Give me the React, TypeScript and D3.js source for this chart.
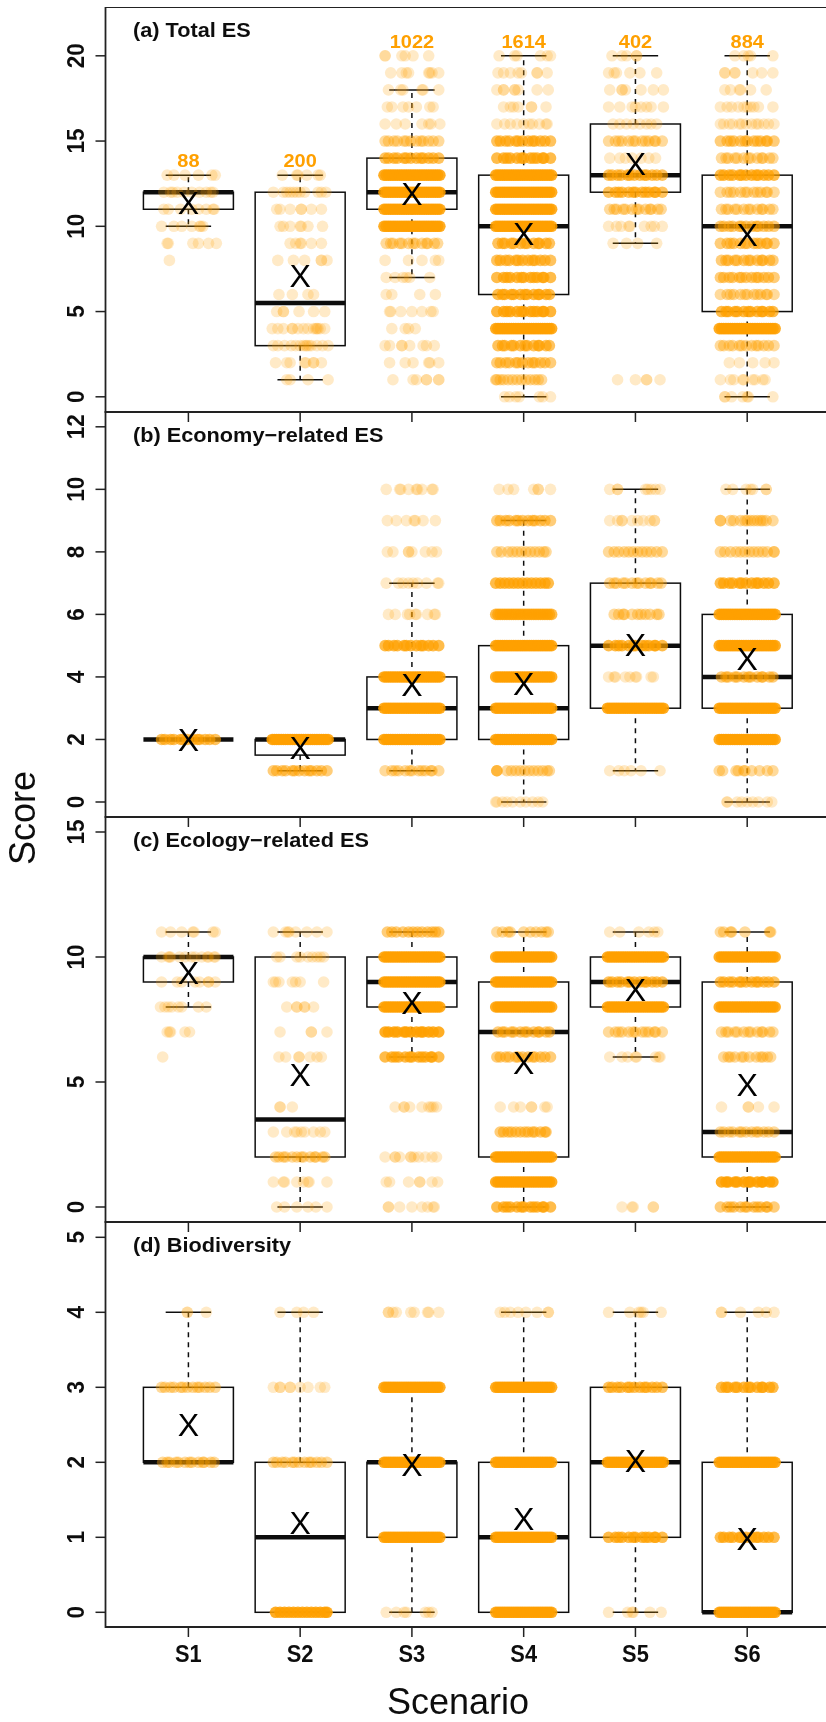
import React from "react";
import * as d3 from "d3";

type Row = [number, number, number[]];
type Box = [number, number, number, number, number, number];

const scenarios = ["S1", "S2", "S3", "S4", "S5", "S6"];
const counts = ["88", "200", "1022", "1614", "402", "884"];
const panelTitles = ["(a) Total ES", "(b) Economy\u2212related ES", "(c) Ecology\u2212related ES", "(d) Biodiversity"];

const yDomains = [20, 12, 15, 5];
const yTicks = [
  [0, 5, 10, 15, 20],
  [0, 2, 4, 6, 8, 10, 12],
  [0, 5, 10, 15],
  [0, 1, 2, 3, 4, 5],
];

// whisker low, q1, median, q3, whisker high, mean
const totalBoxes: Box[] = [
  [10, 11, 12, 12, 13, 11.4],
  [1, 3, 5.5, 12, 13, 7.1],
  [7, 11, 12, 14, 18, 11.9],
  [0, 6, 10, 13, 20, 9.6],
  [9, 12, 13, 16, 20, 13.7],
  [0, 5, 10, 13, 20, 9.5],
];
const economyBoxes: Box[] = [
  [2, 2, 2, 2, 2, 2],
  [1, 1.5, 2, 2, 2, 1.75],
  [1, 2, 3, 4, 7, 3.75],
  [0, 2, 3, 5, 9, 3.8],
  [1, 3, 5, 7, 10, 5.05],
  [0, 3, 4, 6, 10, 4.6],
];
const ecologyBoxes: Box[] = [
  [8, 9, 10, 10, 11, 9.4],
  [0, 2, 3.5, 10, 11, 5.3],
  [6, 8, 9, 10, 11, 8.2],
  [0, 2, 7, 9, 11, 5.8],
  [6, 8, 9, 10, 11, 8.7],
  [0, 2, 3, 9, 11, 4.9],
];
const biodiversityBoxes: Box[] = [
  [2, 2, 2, 3, 4, 2.5],
  [0, 0, 1, 2, 4, 1.2],
  [0, 1, 2, 2, 3, 1.97],
  [0, 0, 1, 2, 4, 1.25],
  [0, 1, 2, 3, 4, 2.02],
  [0, 0, 0, 2, 4, 0.98],
];

// hand-read dot offsets along a row, in hundredths of a scenario spacing
const FULL = [-25, -23, -21, -19, -17, -15, -13, -11, -9, -7, -5, -3, -1, 1, 3, 5, 7, 9, 11, 13, 15, 17, 19, 21, 23, 25];
const P = [-24, -21, -16, -13, -7, -5, -1, 4, 8, 10, 15, 19, 24];
const Q = [-23, -19, -17, -11, -9, -3, 1, 3, 9, 13, 14, 20, 23];
const R = [-24, -18, -15, -12, -6, -2, 0, 6, 9, 12, 17, 18, 24];

const totalRows: Row[][] = [
  [
    [13, 1, [-19, -13, -3, 9, 21, 24]],
    [12, 1, [-22, -16, -14, -10, -4, 3, 10, 16, 20, 22]],
    [11, 1, [-22, -18, -7, 3, 9, 16, 22, 23]],
    [10, 1, [-24, -13, -6, 3, 10, 11, 13]],
    [9, 1, [-19, -18, 4, 9, 18, 25]],
    [8, 1, [-17]],
  ],
  [
    [13, 1, [-16, -3, -2, 6, 16, 18]],
    [12, 1, [-24, -15, -12, -9, -6, -3, 0, 4, 16, 19, 23]],
    [11, 1, [-21, -18, -9, 1, 1, 10, 19]],
    [10, 1, [-18, -15, -9, 0, 1, 7, 20]],
    [9, 1, [-9, -4, 0, 1, 10, 19]],
    [8, 1, [-20, -6, 4, 19, 19, 24]],
    [6, 1, [-19, -7, 7, 12]],
    [5, 1, [-21, -15, -15, -1, 12, 22]],
    [4, 1, [-25, -20, -15, -7, -7, -2, 3, 7, 12, 14, 15, 16, 18, 22]],
    [3, 1, [-24, -20, -14, -8, -4, 0, 3, 5, 6, 8, 10, 15, 20, 25]],
    [2, 1, [-22, -12, -9, 4, 5, 12, 12, 19]],
    [1, 1, [-12, -9, 7, 25]],
  ],
  [
    [20, 1, [-24, -24, -9, -6, 1, 15]],
    [19, 1, [-19, -9, -5, -3, 15, 16, 18, 24]],
    [18, 1, [-21, -10, -8, 9, 10, 24]],
    [17, 1, [-22, -18, -8, -3, 4, 16, 19]],
    [16, 1, [-24, -14, -6, 9, 15, 17, 25]],
    [15, 2, P],
    [14, 4, P],
    [13, 8, FULL],
    [12, 8, FULL],
    [11, 8, FULL],
    [10, 8, FULL],
    [9, 2, Q],
    [8, 1, [-24, -3, 9, 21, 24]],
    [7, 1, [-23, -15, -8, -5, -2, 16]],
    [6, 1, [-23, -18, 7, 21]],
    [5, 1, [-20, -19, -10, 0, 9, 17, 19]],
    [4, 1, [-18, -6, -3, 3]],
    [3, 1, [-24, -20, -9, -9, -2, 10, 13, 20]],
    [2, 1, [-20, -6, 1, 15, 16, 24]],
    [1, 1, [-17, 1, 4, 13, 13, 24, 24]],
  ],
  [
    [20, 1, [-22, -8, -6, 15, 21, 24]],
    [19, 1, [-23, -18, -12, -5, -2, 12, 12, 21]],
    [18, 1, [-24, -18, -18, -8, -8, -5, 12, 22]],
    [17, 1, [-18, -12, -9, -5, 7, 7, 20]],
    [16, 1, [-24, -17, -12, -6, 0, 5, 8, 14, 20, 21]],
    [15, 4, P],
    [14, 5, R],
    [13, 8, FULL],
    [12, 8, FULL],
    [11, 8, FULL],
    [10, 8, FULL],
    [9, 4, Q],
    [8, 4, P],
    [7, 5, R],
    [6, 5, Q],
    [5, 6, R],
    [4, 8, FULL],
    [3, 4, Q],
    [2, 3, P],
    [1, 2, [-25, -24, -21, -18, -14, -10, -6, -2, 2, 6, 10, 13, 16]],
    [0, 1, [-17, -13, -7, -4, 14, 17, 24]],
  ],
  [
    [20, 1, [-21, -12, -8, 1, 1]],
    [19, 1, [-24, -19, -17, -5, 4, 19]],
    [18, 1, [-23, -12, -12, -9, 5, 16, 25]],
    [17, 1, [-24, -14, -3, 0, 5, 10, 14, 25]],
    [16, 1, [-20, -14, -8, -2, 4, 10, 14, 19]],
    [15, 2, R],
    [14, 1, [-23, -14, -9, -3, 5, 12, 18]],
    [13, 4, P],
    [12, 4, R],
    [11, 2, Q],
    [10, 1, [-24, -17, -13, -6, -5, 8, 14, 17, 24]],
    [9, 1, [-20, -8, 2, 19]],
    [1, 1, [-16, 0, 10, 10, 22]],
  ],
  [
    [20, 1, [-11, -3, 1, 3, 23]],
    [19, 1, [-20, -20, -11, -11, 5, 13, 23]],
    [18, 1, [-20, -15, -7, -6, 3, 17]],
    [17, 1, [-24, -18, -14, -8, -3, 0, 3, 6, 10, 23]],
    [16, 1, P],
    [15, 3, R],
    [14, 2, Q],
    [13, 5, P],
    [12, 2, R],
    [11, 2, Q],
    [10, 3, P],
    [9, 3, R],
    [8, 3, Q],
    [7, 3, P],
    [6, 2, R],
    [5, 5, Q],
    [4, 8, FULL],
    [3, 2, P],
    [2, 1, [-16, -7, 5, 16, 24]],
    [1, 1, [-24, -15, -12, -4, -3, 5, 7, 14, 16]],
    [0, 1, [-20, -20, -14, -4, 0, 1, 23]],
  ],
];

const economyRows: Row[][] = [
  [[2, 4, P]],
  [
    [2, 8, FULL],
    [1, 3, P],
  ],
  [
    [10, 1, [-23, -11, -10, -3, 4, 5, 9, 18, 19]],
    [9, 1, [-22, -14, -5, 2, 3, 10, 21]],
    [8, 1, [-22, -17, -3, -3, 0, 12, 18, 22]],
    [7, 1, [-23, -12, -8, -3, 1, 5, 13, 23, 24]],
    [6, 1, [-21, -15, -4, -2, 3, 4, 14, 20, 21]],
    [5, 5, P],
    [4, 8, FULL],
    [3, 8, FULL],
    [2, 8, FULL],
    [1, 2, R],
  ],
  [
    [10, 1, [-22, -14, -9, 9, 13, 13, 24]],
    [9, 3, P],
    [8, 2, [-24, -20, -14, -10, -6, -2, 2, 6, 10, 14, 18, 20]],
    [7, 5, [-25, -21, -17, -13, -9, -5, -1, 3, 7, 11, 15, 19, 22]],
    [6, 5, FULL],
    [5, 8, FULL],
    [4, 8, FULL],
    [3, 8, FULL],
    [2, 8, FULL],
    [1, 2, [-24, -24, -24, -15, -11, -7, -3, 1, 5, 9, 13, 17, 21, 23]],
    [0, 1, [-25, -24, -19, -15, -10, -3, 2, 8, 13, 17]],
  ],
  [
    [10, 1, [-23, -16, -16, 9, 11, 14, 18, 22]],
    [9, 1, [-23, -16, -12, -12, -3, 2, 7, 13, 17, 17]],
    [8, 2, [-24, -19, -15, -10, -6, -2, 2, 6, 10, 14, 19, 24]],
    [7, 2, Q],
    [6, 2, [-19, -15, -11, -10, -3, 2, 5, 9, 13, 19, 21]],
    [5, 5, R],
    [4, 1, [-24, -19, -18, -9, -5, 0, 1, 14, 16]],
    [3, 8, FULL],
    [1, 1, [-23, -15, -10, -4, 5, 22]],
  ],
  [
    [10, 1, [-19, -13, -1, 3, 5, 17, 17]],
    [9, 2, [-24, -24, -15, -12, -6, -2, 0, 3, 6, 9, 12, 14, 17, 23]],
    [8, 2, [-24, -20, -15, -10, -6, -2, 2, 6, 10, 14, 18, 24, 24]],
    [7, 5, P],
    [6, 8, FULL],
    [5, 8, FULL],
    [4, 3, Q],
    [3, 8, FULL],
    [2, 8, FULL],
    [1, 2, [-25, -22, -10, -8, -3, -2, 4, 11, 18, 23]],
    [0, 1, [-18, -18, -9, -5, 0, 5, 10, 18, 22]],
  ],
];

const ecologyRows: Row[][] = [
  [
    [11, 1, [-24, -16, -6, 4, 5, 22, 24]],
    [10, 1, [-24, -18, -17, -16, -8, -3, 3, 6, 12, 17, 18, 23, 24]],
    [9, 1, [-24, -10, -6, 6, 10, 18, 18, 24]],
    [8, 1, [-25, -21, -18, -15, -9, -6, 9, 16]],
    [7, 1, [-19, -17, -16, -3, 1]],
    [6, 1, [-23]],
  ],
  [
    [11, 1, [-24, -13, -11, -10, -4, 6, 15, 24]],
    [10, 1, [-21, -18, -3, 0, 7, 11, 15, 18, 21]],
    [9, 1, [-24, -22, -19, -7, -4, 0, 21]],
    [8, 1, [-12, -3, -3, 4, 4, 12]],
    [7, 1, [-18, 10, 10, 24]],
    [6, 1, [-19, -13, -1, -1, 9, 15, 19]],
    [4, 1, [-18, -18, -7]],
    [3, 1, [-24, -12, -5, -3, 1, 4, 12, 18, 22]],
    [2, 2, [-22, -19, -15, -13, -7, -3, 1, 3, 9, 13, 14, 20, 22]],
    [1, 1, [-24, -15, -14, -3, 3, 7, 8, 24]],
    [0, 1, [-21, -14, -3, 7, 14, 24]],
  ],
  [
    [11, 3, [-22, -18, -14, -8, -3, 1, 5, 9, 14, 18, 21, 24]],
    [10, 8, FULL],
    [9, 8, FULL],
    [8, 8, FULL],
    [7, 8, P],
    [6, 5, R],
    [4, 1, [-15, -7, -7, -2, 9, 15, 17, 19, 22]],
    [2, 1, [-24, -15, -15, -11, -1, -1, 2, 6, 12, 18, 22]],
    [1, 1, [-23, -20, -3, 7, 7, 18, 23]],
    [0, 1, [-21, -21, -11, 0, 9, 14, 19, 20]],
  ],
  [
    [11, 2, [-24, -19, -14, -12, 0, 6, 11, 16, 20, 22]],
    [10, 8, FULL],
    [9, 8, FULL],
    [8, 8, FULL],
    [7, 3, Q],
    [6, 3, P],
    [4, 1, [-21, -9, -3, 7, 7, 19, 21]],
    [3, 3, [-21, -18, -14, -11, -7, -3, 1, 4, 8, 10, 15, 19, 20]],
    [2, 8, FULL],
    [1, 8, FULL],
    [0, 5, R],
  ],
  [
    [11, 1, [-23, -14, 3, 12, 17, 20]],
    [10, 8, FULL],
    [9, 4, P],
    [8, 8, FULL],
    [7, 2, R],
    [6, 1, [-23, -12, -7, 0, 1, 18, 21, 22]],
    [0, 1, [-12, -3, -2, 16, 16]],
  ],
  [
    [11, 2, [-24, -21, -15, -14, -2, 20, 21]],
    [10, 8, FULL],
    [9, 4, P],
    [8, 8, FULL],
    [7, 2, Q],
    [6, 2, [-21, -17, -15, -11, -5, -3, 2, 8, 12, 14, 18, 21]],
    [4, 1, [-23, 1, 1, 10, 24]],
    [3, 2, P],
    [2, 8, FULL],
    [1, 8, Q],
    [0, 3, R],
  ],
];

const biodiversityRows: Row[][] = [
  [
    [4, 1, [-1, -1, 16]],
    [3, 2, P],
    [2, 2, Q],
  ],
  [
    [4, 1, [-18, -3, 3, 12]],
    [3, 1, [-24, -18, -18, -9, -9, 0, 7, 18, 22]],
    [2, 2, P],
    [0, 8, [-22, -18, -14, -10, -6, -2, 2, 6, 10, 14, 18, 22, 24]],
  ],
  [
    [4, 1, [-21, -21, -17, -14, -1, 2, 14, 15, 24]],
    [3, 8, FULL],
    [2, 8, FULL],
    [1, 8, FULL],
    [0, 1, [-23, -14, -7, -5, 12, 15, 18]],
  ],
  [
    [4, 1, [-21, -17, -12, -5, 2, 12, 22, 22]],
    [3, 8, FULL],
    [2, 8, FULL],
    [1, 8, FULL],
    [0, 8, FULL],
  ],
  [
    [4, 1, [-24, -5, 3, 5, 7, 23]],
    [3, 4, P],
    [2, 8, FULL],
    [1, 5, R],
    [0, 1, [-24, -7, -3, -2, 13, 23]],
  ],
  [
    [4, 1, [-23, -23, -6, 10, 17, 24]],
    [3, 5, Q],
    [2, 8, FULL],
    [1, 5, P],
    [0, 8, FULL],
  ],
];

const boxes = [totalBoxes, economyBoxes, ecologyBoxes, biodiversityBoxes];
const rows = [totalRows, economyRows, ecologyRows, biodiversityRows];

const W = 826;
const H = 1722;
const FONT = '"Liberation Sans", Arial, sans-serif';
const INK = "#222";
const ORANGE = "#ffa000";
const LEFT = 105.5;
const RIGHT = 832;
const panelEdges = [7, 412, 817, 1222, 1627];
const yRanges: [number, number][] = [
  [396.8, 55.8],
  [802, 426.8],
  [1207, 832],
  [1612.3, 1237.3],
];

const x = d3.scaleLinear().domain([0, 5]).range([188.4, 747.2]);
const jitter = d3.scaleLinear().domain([0, 100]).range([0, (747.2 - 188.4) / 5]);

function Panel({ index }: { index: number }) {
  const top = panelEdges[index];
  const bottom = panelEdges[index + 1];
  const y = d3.scaleLinear().domain([0, yDomains[index]]).range(yRanges[index]);
  const capHalf = 22.7;
  const boxHalf = 45;
  return (
    <g>
      {/* frame and axes */}
      <path d={`M${RIGHT},${top}H${LEFT}V${bottom}H${RIGHT}`} fill="none" stroke={INK} strokeWidth={1.8} />
      {index > 0 &&
        scenarios.map((s, i) => (
          <line key={s} x1={x(i)} x2={x(i)} y1={top} y2={top + 10} stroke={INK} strokeWidth={1.5} />
        ))}
      {yTicks[index].map((t) => (
        <g key={t}>
          <line x1={LEFT - 10} x2={LEFT} y1={y(t)} y2={y(t)} stroke={INK} strokeWidth={1.5} />
          <text
            transform={`translate(83.5,${y(t)}) rotate(-90) scale(0.92,1)`}
            textAnchor="middle"
            fontFamily={FONT}
            fontWeight={700}
            fontSize={24.5}
            fill="#111"
          >
            {t}
          </text>
        </g>
      ))}

      {/* box plots */}
      {boxes[index].map(([lo, q1, med, q3, hi], i) => {
        const cx = x(i);
        return (
          <g key={i} stroke="#111" fill="none">
            <line x1={cx} x2={cx} y1={y(q3)} y2={y(hi)} strokeWidth={1.5} strokeDasharray="5 5" />
            <line x1={cx} x2={cx} y1={y(q1)} y2={y(lo)} strokeWidth={1.5} strokeDasharray="5 5" />
            <line x1={cx - capHalf} x2={cx + capHalf} y1={y(hi)} y2={y(hi)} strokeWidth={1.5} />
            <line x1={cx - capHalf} x2={cx + capHalf} y1={y(lo)} y2={y(lo)} strokeWidth={1.5} />
            <rect x={cx - boxHalf} width={boxHalf * 2} y={y(q3)} height={Math.max(0, y(q1) - y(q3))} strokeWidth={1.5} />
            <line x1={cx - boxHalf} x2={cx + boxHalf} y1={y(med)} y2={y(med)} strokeWidth={4.5} />
          </g>
        );
      })}

      {/* jittered answers */}
      {rows[index].map((scenarioRows, i) => (
        <g key={i} fill={ORANGE}>
          {scenarioRows.map(([score, weight, offsets]) =>
            offsets.map((o, k) => (
              <circle
                key={`${score}-${k}`}
                cx={x(i) + jitter(o)}
                cy={y(score)}
                r={5.8}
                fillOpacity={1 - Math.pow(0.78, weight)}
              />
            ))
          )}
        </g>
      ))}

      {/* means */}
      {boxes[index].map((b, i) => (
        <text
          key={i}
          x={x(i)}
          y={y(b[5]) + 11.5}
          textAnchor="middle"
          fontFamily={FONT}
          fontSize={32}
          fill="#000"
        >
          X
        </text>
      ))}

      <text
        transform={`translate(133,${top + 30}) scale(1.06,1)`}
        fontFamily={FONT}
        fontWeight={700}
        fontSize={20.5}
        fill="#111"
      >
        {panelTitles[index]}
      </text>
    </g>
  );
}

export default function App() {
  const countY = [160, 160, 40.7, 40.7, 40.7, 40.7];
  return (
    <svg
      width={W}
      height={H}
      viewBox={`0 0 ${W} ${H}`}
      style={{ position: "absolute", left: 0, top: 0, background: "#fff" }}
    >
      <defs>
        <filter id="soft" x="0" y="0" width="100%" height="100%">
          <feGaussianBlur stdDeviation="0.6" />
        </filter>
      </defs>
      <g filter="url(#soft)">
        {yDomains.map((_, i) => (
          <Panel key={i} index={i} />
        ))}
        {counts.map((c, i) => (
          <text
            key={c}
            transform={`translate(${x(i)},${countY[i] + 7}) scale(1.05,1)`}
            textAnchor="middle"
            fontFamily={FONT}
            fontWeight={700}
            fontSize={19}
            fill={ORANGE}
          >
            {c}
          </text>
        ))}
        {scenarios.map((s, i) => (
          <g key={s}>
            <line x1={x(i)} x2={x(i)} y1={1627} y2={1637} stroke={INK} strokeWidth={1.5} />
            <text
              transform={`translate(${x(i)},1662) scale(0.95,1)`}
              textAnchor="middle"
              fontFamily={FONT}
              fontWeight={700}
              fontSize={23}
              fill="#111"
            >
              {s}
            </text>
          </g>
        ))}
        <text x={458} y={1714} textAnchor="middle" fontFamily={FONT} fontSize={36} fill="#111">
          Scenario
        </text>
        <text
          transform="translate(35,818) rotate(-90)"
          textAnchor="middle"
          fontFamily={FONT}
          fontSize={36}
          fill="#111"
        >
          Score
        </text>
      </g>
    </svg>
  );
}
